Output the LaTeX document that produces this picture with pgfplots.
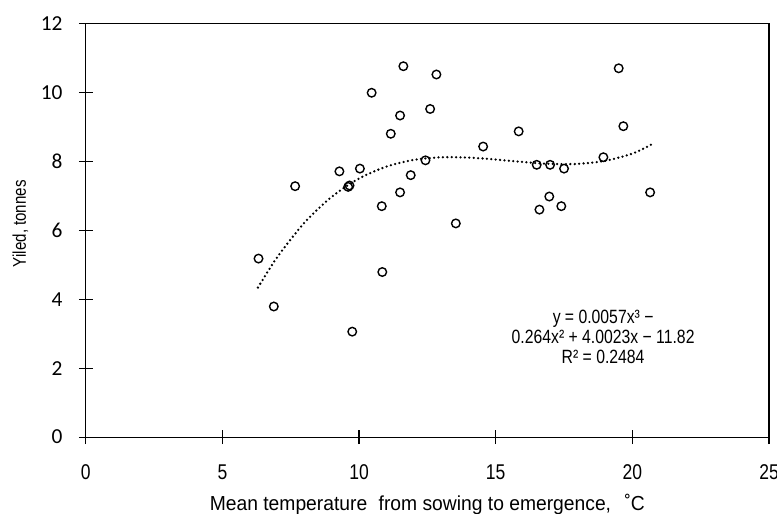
\documentclass[border=0pt]{standalone}
\usepackage{fontspec}
\usepackage{pgfplots}
\pgfplotsset{compat=1.18}
\setmainfont{Liberation Sans}
\newfontfamily\narrowfont{Liberation Sans}[FakeStretch=0.82]
\newfontfamily\labelfont{Liberation Sans}[FakeStretch=0.95]
\newfontfamily\calibfont{Carlito}

\begin{document}
\begin{tikzpicture}
\begin{axis}[
  scale only axis, width=512pt, height=310pt,
  xmin=0, xmax=25, ymin=0, ymax=12,
  xtick={0,5,10,15,20,25}, ytick={0,2,4,6,8,10,12},
  tick pos=left, tick align=center, major tick length=10.5pt,
  axis line style={line width=0.9pt},
  tick style={line width=0.9pt, black},
  /pgf/number format/assume math mode=true,
  x tick label style={font=\narrowfont\fontsize{16}{17}\selectfont, anchor=north, inner sep=0pt, yshift=-15pt},
  y tick label style={font=\calibfont\fontsize{16}{17}\selectfont, anchor=east, inner sep=0pt, xshift=-12pt},
  xlabel={Mean temperature\hspace{0.3em} from sowing to emergence,\hspace{0.4em} ˚C},
  ylabel={Yiled, tonnes},
  every axis x label/.style={at={(axis description cs:0.5,0)}, anchor=base, yshift=-55pt, font=\labelfont\fontsize{15.2}{16}\selectfont},
  every axis y label/.style={at={(axis description cs:0,0.5)}, anchor=center, xshift=-49pt, yshift=5pt, rotate=90, font=\narrowfont\fontsize{13.8}{15}\selectfont},
]
\addplot[only marks, mark=o, mark size=3.2pt, mark options={line width=1.05pt, draw=black}] coordinates {
  (11.62,10.76) (12.83,10.52) (10.46,9.99) (11.50,9.33) (12.60,9.52)
  (11.16,8.80) (14.54,8.43) (15.84,8.87) (12.43,8.03) (9.28,7.71)
  (10.03,7.79) (11.89,7.60) (7.66,7.28) (9.60,7.26) (9.65,7.30)
  (11.50,7.10) (10.83,6.70) (13.54,6.20) (6.32,5.18) (10.85,4.79)
  (6.88,3.79) (9.75,3.06) (19.67,9.02) (16.50,7.90) (16.99,7.90)
  (17.50,7.79) (18.94,8.12) (16.96,6.98) (16.60,6.60) (17.40,6.70)
  (20.65,7.10) (19.50,10.70)
};
\addplot[smooth, black, line width=1.9pt, line cap=round, dash pattern=on 0pt off 3.3pt] coordinates {
  (6.3,4.34) (7,5.215) (8,6.220) (9,6.972) (10,7.503) (11,7.848) (12,8.042)
  (13,8.117) (14,8.109) (15,8.053) (16,7.980) (17,7.927) (18,7.927)
  (19,8.016) (20,8.226) (20.7,8.49)
};
\node[align=center, font=\narrowfont\fontsize{14.4}{15}\selectfont] at (axis cs:18.93,2.90)
  {y = 0.0057x³ −\\0.264x² + 4.0023x − 11.82\\R² = 0.2484};
\end{axis}
\pgfresetboundingbox
\path[use as bounding box] ([shift={(-64.3pt,-57pt)}]current axis.south west) rectangle ([shift={(6pt,17.6pt)}]current axis.north east);
\end{tikzpicture}
\end{document}
